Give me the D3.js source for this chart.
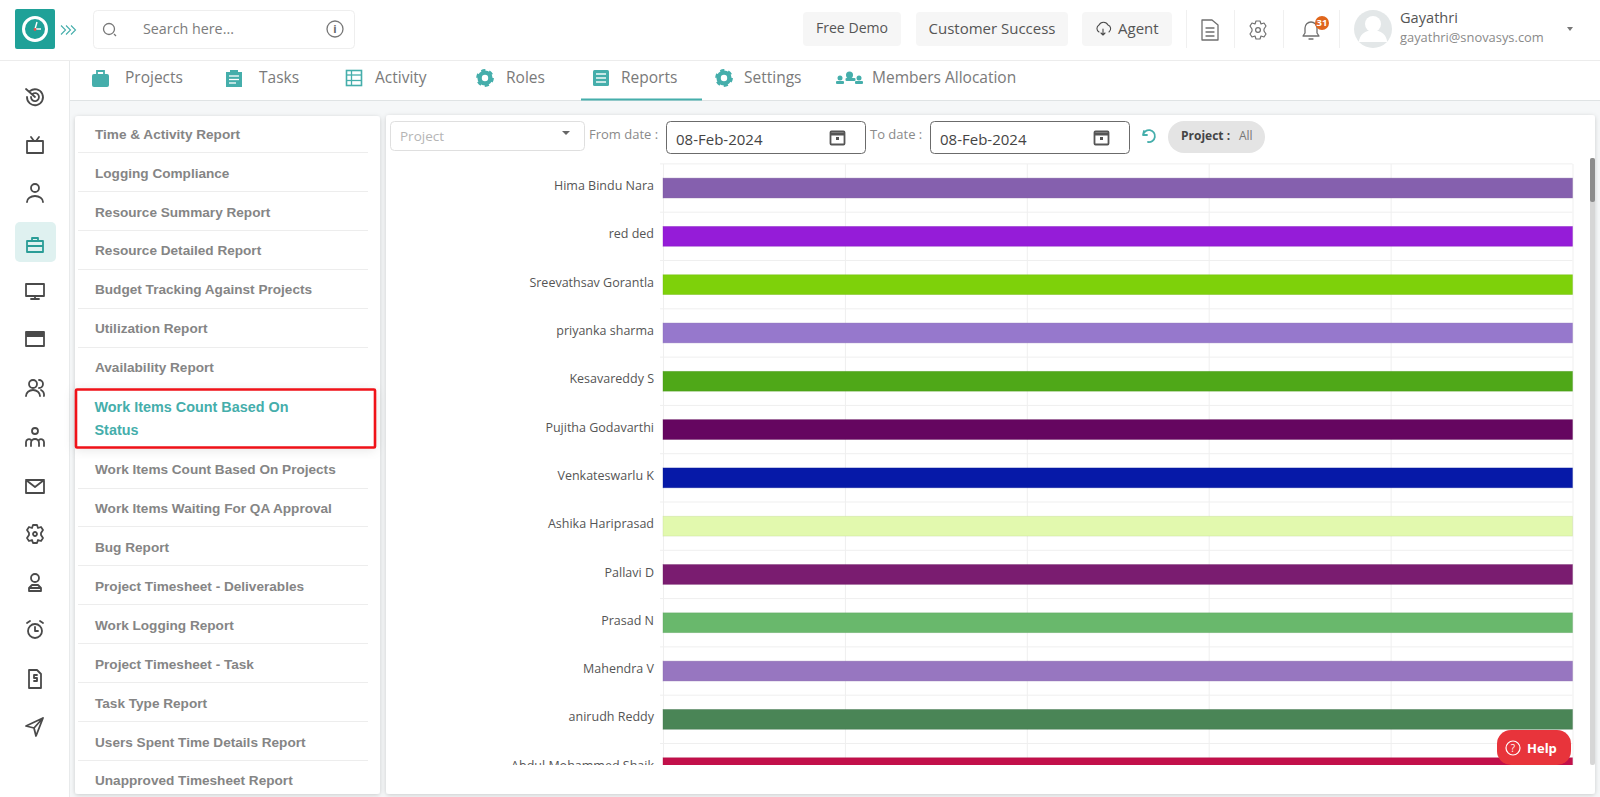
<!DOCTYPE html>
<html><head><meta charset="utf-8">
<script src="https://cdn.jsdelivr.net/npm/d3@7"></script>
<style>
html,body{margin:0;padding:0;background:#f5f7f8;overflow:hidden}
svg{display:block}
text{font-family:"Open Sans",sans-serif}
.menu{font-family:"Liberation Sans",Arial,sans-serif;font-weight:700;font-size:13.6px;fill:#858585}
.ic{fill:none;stroke:#4a4a4a;stroke-width:1.8;stroke-linecap:round;stroke-linejoin:round}
.tic{fill:#45aeab}
.grid line,.grid path{stroke:#efefef;stroke-width:1}
.names text{font-family:"Open Sans",sans-serif;font-size:12.5px;fill:#555}
</style></head><body>
<div id="chart"></div>
<script>
// ---------- chart data ----------
const employees = ["Hima Bindu Nara","red ded","Sreevathsav Gorantla","priyanka sharma","Kesavareddy S","Pujitha Godavarthi","Venkateswarlu K","Ashika Hariprasad","Pallavi D","Prasad N","Mahendra V","anirudh Reddy","Abdul Mohammed Shaik"];
const workItemCounts = [1,1,1,1,1,1,1,1,1,1,1,1,1];
const barColors = ["#8560ae","#951cd8","#7ed10a","#9678cc","#4fa818","#650660","#0619a8","#e2f9ae","#7a1c70","#69b86c","#9776c0","#4a8556","#c2104a"];
const valueTicks = [0,0.2,0.4,0.6,0.8,1];
// ---------- page text ----------
const menuItems = ["Time & Activity Report","Logging Compliance","Resource Summary Report","Resource Detailed Report","Budget Tracking Against Projects","Utilization Report","Availability Report"];
const menuItemsBelow = ["Work Items Count Based On Projects","Work Items Waiting For QA Approval","Bug Report","Project Timesheet - Deliverables","Work Logging Report","Project Timesheet - Task","Task Type Report","Users Spent Time Details Report","Unapproved Timesheet Report"];
const tabNames = ["Projects","Tasks","Activity","Roles","Reports","Settings","Members Allocation"];

const W=1600,H=797;
const svg=d3.select("#chart").append("svg").attr("width",W).attr("height",H);
const defs=svg.append("defs");
const f=defs.append("filter").attr("id","sh").attr("x","-5%").attr("y","-5%").attr("width","110%").attr("height","110%");
f.append("feDropShadow").attr("dx",0).attr("dy",1).attr("stdDeviation",2).attr("flood-color","#000").attr("flood-opacity",.18);
const f2=defs.append("filter").attr("id","sh2").attr("x","-10%").attr("y","-20%").attr("width","120%").attr("height","140%");
f2.append("feDropShadow").attr("dx",0).attr("dy",2).attr("stdDeviation",6).attr("flood-color","#000").attr("flood-opacity",.12);

const rect=(g,x,y,w,h,fill,r=0,stroke=null)=>g.append("rect").attr("x",x).attr("y",y).attr("width",w).attr("height",h).attr("fill",fill).attr("rx",r).attr("stroke",stroke);
const line=(g,x1,y1,x2,y2,c,sw=1)=>g.append("line").attr("x1",x1).attr("y1",y1).attr("x2",x2).attr("y2",y2).attr("stroke",c).attr("stroke-width",sw);
const txt=(g,x,y,s,size,fill,o={})=>g.append("text").attr("x",x).attr("y",y).attr("dy",".35em").attr("font-size",size).attr("fill",fill).attr("text-anchor",o.anchor||"start").attr("font-weight",o.weight||400).attr("letter-spacing",o.ls||null).text(s);
const ic=(x,y,d,cls="ic")=>svg.append("path").attr("class",cls).attr("transform",`translate(${x},${y})`).attr("d",d);
const gear=(cx,cy,c)=>{
  svg.append("circle").attr("cx",cx).attr("cy",cy).attr("r",5.4).attr("fill","none").attr("stroke",c).attr("stroke-width",4.4);
  svg.append("circle").attr("cx",cx).attr("cy",cy).attr("r",7.8).attr("fill","none").attr("stroke",c).attr("stroke-width",2.2).attr("stroke-dasharray","4.2 3.97");
};

// chrome
rect(svg,0,0,W,60,"#fff");
rect(svg,0,0,69,H,"#fff");
line(svg,69.5,60,69.5,H,"#e8eaeb");
line(svg,0,60.5,W,60.5,"#ececec");
rect(svg,70,61,W-70,39,"#fff");
line(svg,70,100.5,W,100.5,"#dfe3e4");

// logo
rect(svg,15,9,40,40,"#1fa198",2);
svg.append("circle").attr("cx",35).attr("cy",29).attr("r",11.5).attr("fill","none").attr("stroke","#fff").attr("stroke-width",3);
line(svg,35,29,37,22,"#fff",1.4);line(svg,35,29,41,29,"#fff",1.4);
svg.append("circle").attr("cx",35).attr("cy",29.5).attr("r",1.4).attr("fill","#e0524f");
[61,66,71].forEach(x=>svg.append("path").attr("d",`M${x},25.5 l4.5,4.5 l-4.5,4.5`).attr("fill","none").attr("stroke","#45aeab").attr("stroke-width",1.1));

// search
rect(svg,93.5,10.5,261,38,"#fff",4,"#eeeeee");
svg.append("circle").attr("cx",109).attr("cy",29).attr("r",5.5).attr("fill","none").attr("stroke","#777").attr("stroke-width",1.3);
line(svg,114,34,116,36,"#777",1.3);
txt(svg,143,29,"Search here...",14.3,"#7c7c7c");
svg.append("circle").attr("cx",335).attr("cy",29).attr("r",8).attr("fill","none").attr("stroke","#777").attr("stroke-width",1.3);
txt(svg,335,29,"i",11,"#666",{anchor:"middle",weight:700});

// header buttons
[[803,98,"Free Demo",852,"middle",14.1],[916,152,"Customer Success",992,"middle",15],[1082,90,"Agent",1118,"start",15]].forEach(b=>{
  rect(svg,b[0],12,b[1],34,"#f6f6f6",4);
  txt(svg,b[3],28.5,b[2],b[5],"#555",{anchor:b[4]});
});
ic(1103,29,"M-4,3 a4,4 0 0 1 0,-7 a5,5 0 0 1 9,0 a4,4 0 0 1 1,7 M0,0 v6 M-2,4 l2,2 l2,-2").attr("stroke","#777").style("stroke-width",1.1);
[1186,1234,1283,1339].forEach(x=>line(svg,x+.5,10,x+.5,48,"#f0f0f0"));
ic(1210,30,"M-8,-10 h10 l6,5 v15 h-16 z M-4,-2 h8 M-4,2 h8 M-4,6 h8").style("stroke","#6f6f6f").style("stroke-width",1.3);
ic(1258,30,"M-2,-9 h4 l1,3 3,-1 2,3 -2,3 v2 l2,3 -2,3 -3,-1 -1,3 h-4 l-1,-3 -3,1 -2,-3 2,-3 v-2 l-2,-3 2,-3 3,1 z").style("stroke","#6f6f6f").style("stroke-width",1.2);
svg.append("circle").attr("cx",1258).attr("cy",30).attr("r",2.4).attr("fill","none").attr("stroke","#6f6f6f").attr("stroke-width",1.2);
ic(1311,30,"M-8,6 h16 l-2,-3 v-5 a6,6 0 0 0 -12,0 v5 z M-2,9 h4").style("stroke","#6f6f6f").style("stroke-width",1.3);
svg.append("circle").attr("cx",1322).attr("cy",23).attr("r",7).attr("fill","#e0661c");
txt(svg,1322,23,"31",9.5,"#fff",{anchor:"middle",weight:700});
svg.append("circle").attr("cx",1373).attr("cy",29).attr("r",19).attr("fill","#e3e7e8");
svg.append("circle").attr("cx",1373).attr("cy",24).attr("r",8).attr("fill","#fff");
svg.append("path").attr("d","M1359,42 a14,12 0 0 1 28,0 z").attr("fill","#fff");
txt(svg,1400,18,"Gayathri",14.6,"#555");
txt(svg,1400,37.5,"gayathri@snovasys.com",12.9,"#8a8a8a");
svg.append("path").attr("d","M1567,27 h6 l-3,4 z").attr("fill","#777");

// tabs
const tabTextX=[125,259,375,506,621,744,872];
tabNames.forEach((t,i)=>txt(svg,tabTextX[i],77.5,t,15.5,"#7a7a7a"));
rect(svg,92,74,17,13,"#45aeab",2);
svg.append("path").attr("d","M97,74 v-3 h7 v3").attr("fill","none").attr("stroke","#45aeab").attr("stroke-width",1.8);
ic(226,70,"M0,2 h4 v-2 h8 v2 h4 v15 h-16 z","tic");
[[229,76,10],[229,79.5,10],[229,83,7]].forEach(a=>line(svg,a[0],a[1],a[0]+a[2],a[1],"#fff",1.3));
rect(svg,346.5,70.5,15,15,"none",0,"#45aeab").attr("stroke-width",1.6);
[75,80.5].forEach(y=>line(svg,347,y,361,y,"#45aeab",1.3));line(svg,351.5,71,351.5,85,"#45aeab",1.3);
gear(485,78,"#45aeab");
rect(svg,593,70,16,16,"#45aeab",1.5);
[74,78,82].forEach(y=>line(svg,596,y,606,y,"#fff",1.4));
gear(724,78,"#45aeab");
[[838,81,3],[847.5,78,4],[857,81,3]].forEach(a=>{svg.append("circle").attr("cx",a[0]+2).attr("cy",a[1]-3).attr("r",a[2]-.5).attr("fill","#45aeab");rect(svg,a[0]-2,a[1],a[2]*2+2,3,"#45aeab",1);});
line(svg,581,99.5,702,99.5,"#45aeab",2);

// sidebar icons
rect(svg,15,222,41,40,"#dff1f0",5);
const sideY=[97,146,193,245,291,339,388,438,486,533,583,630,679,727];
const sideD=[
 "M-8,0 a8,8 0 1 0 3,-6 M-4,0 a4,4 0 1 0 1.5,-3 M-9,-8 l9,8",
 "M-8,-5 h16 v12 h-16 z M-4,-9 l3,4 M4,-9 l-3,4",
 "M-4,-5 a4,4 0 1 0 8,0 a4,4 0 1 0 -8,0 M-8,9 a8,6 0 0 1 16,0",
 "M-8,-4 h16 v11 h-16 z M-3,-4 v-3 h6 v3 M-8,1 h16",
 "M-9,-7 h18 v12 h-18 z M0,5 v3 M-4,8 h8",
 "M-9,-7 h18 v14 h-18 z M-9,-3 h18 M-9,-5 h18",
 "M-6,-4 a4,4 0 1 0 8,0 a4,4 0 1 0 -8,0 M-9,8 a7,6 0 0 1 14,0 M4,-8 a4,4 0 0 1 0,8 M6,2 a6,6 0 0 1 3,6",
 "M-3,-7 a3,3 0 1 0 6,0 a3,3 0 1 0 -6,0 M-9,8 v-4 a3,3 0 0 1 5,-2 M9,8 v-4 a3,3 0 0 0 -5,-2 M-4,8 v-3 a4,4 0 0 1 8,0 v3",
 "M-9,-6 h18 v13 h-18 z M-9,-6 l9,7 l9,-7",
 "M-2,-8 h4 l1,3 3,-1 2,3 -2,3 v2 l2,3 -2,3 -3,-1 -1,3 h-4 l-1,-3 -3,1 -2,-3 2,-3 v-2 l-2,-3 2,-3 3,1 z M-2,1 a2,2 0 1 0 4,0 a2,2 0 1 0 -4,0",
 "M-4,-5 a4,4 0 1 0 8,0 a4,4 0 1 0 -8,0 M-6,8 v-3 l3,-3 h6 l3,3 v3 z M-6,5 h12",
 "M-7,1 a7,7 0 1 0 14,0 a7,7 0 1 0 -14,0 M0,-3 v4 h3 M-8,-7 l3,-2 M8,-7 l-3,-2",
 "M-6,-9 h8 l4,4 v14 h-12 z M2,-4 h-3 v3 h3 v3 h-3",
 "M8,-9 l-17,8 8,2 2,8 z M-1,1 l9,-10"];
sideY.forEach((y,i)=>{const p=ic(35,y,sideD[i]); if(i===3)p.style("stroke","#2a9d97");});

// left panel
rect(svg,75,116,305,678,"#fff",3).attr("filter","url(#sh)");
const menuStep=38.9;
const mg=svg.append("g");
menuItems.forEach((t,i)=>{
  const y=135+i*menuStep;
  txt(mg,95,y-1,t,14,"#808080").attr("class","menu");
  if(i<6) line(mg,78,Math.round(y+17)+.5,368,Math.round(y+17)+.5,"#ededed");
});
menuItemsBelow.forEach((t,i)=>{
  const y=470+i*38.9;
  txt(mg,95,y-.5,t,14,"#808080").attr("class","menu");
  if(i<8) line(mg,78,Math.round(y+17.5)+.5,368,Math.round(y+17.5)+.5,"#ededed");
});
rect(svg,75,389,300,58,"#fff",1).attr("filter","url(#sh2)");
rect(svg,76,389.5,299,58,"#fff",1,"#f01218").attr("stroke-width",2.6);
txt(svg,94.5,406.5,"Work Items Count Based On",14,"#45aeab").attr("class","menu").style("fill","#45aeab").style("font-size","14.4px");
txt(svg,94.5,430,"Status",14,"#45aeab").attr("class","menu").style("fill","#45aeab").style("font-size","14.4px");

// right panel
rect(svg,386,115,1209,679,"#fff",3).attr("filter","url(#sh)");
rect(svg,390.5,121.5,194,29,"#fff",4,"#dfdfdf");
txt(svg,400,136,"Project",13.5,"#b5b5b5");
svg.append("path").attr("d","M562,131 h8 l-4,4 z").attr("fill","#666");
txt(svg,589,134.5,"From date :",13,"#8a8a8a");
txt(svg,870,134.5,"To date :",13,"#8a8a8a");
[[666.5,676,838],[930.5,940,1102]].forEach(d=>{
  rect(svg,d[0],121.5,d[0]<700?199:199,32,"#fff",4,"#6b6b6b");
  txt(svg,d[1],140,"08-Feb-2024",15,"#444");
  rect(svg,d[2]-7.5,131.5,14,13,"none",1,"#555").attr("stroke-width",1.8);
  line(svg,d[2]-7,134,d[2]+6,134,"#555",3);
  rect(svg,d[2]-2,137,3,3,"#555");
});
ic(1149,136,"M-5,-5 l-1,4 l4,0 M-6,-1 a6,6 0 1 1 5,7").style("stroke","#45aeab");
rect(svg,1168,121,97,32,"#e4e4e4",16);
txt(svg,1181,136,"Project :",12,"#444",{weight:700});
txt(svg,1239,136,"All",12,"#777");

// scrollbar
rect(svg,1590,158,5,607,"#d6d6d6",2);
rect(svg,1590,158,5,44,"#8c8c8c",2);

// ---------- the chart ----------
const margin={left:663,right:27.5,top:163.9};
const rowH=48.3;
const innerW=W-margin.left-margin.right;
const x=d3.scaleLinear().domain([0,d3.max(workItemCounts)]).range([0,innerW]);
const y=d3.scaleBand().domain(employees).range([0,rowH*employees.length]).paddingInner(0.59).paddingOuter(0.295);
defs.append("clipPath").attr("id","clip").append("rect").attr("x",-300).attr("y",-10).attr("width",W).attr("height",765-margin.top+10);
const chart=svg.append("g").attr("transform",`translate(${margin.left},${margin.top})`).attr("clip-path","url(#clip)");
const gx=chart.append("g").attr("class","grid").call(d3.axisBottom(x).tickValues(valueTicks).tickSize(rowH*employees.length).tickFormat(""));
gx.select(".domain").remove();
const rowLines=d3.range(0,employees.length+1);
chart.append("g").attr("class","grid").selectAll("line").data(rowLines).join("line")
  .attr("x1",-3).attr("x2",innerW).attr("y1",d=>rowH*d).attr("y2",d=>rowH*d);
chart.selectAll("rect.bar").data(employees).join("rect").attr("class","bar")
  .attr("x",0).attr("y",d=>y(d)).attr("height",y.bandwidth())
  .attr("width",(d,i)=>x(workItemCounts[i])).attr("fill",(d,i)=>barColors[i])
  .attr("stroke",(d,i)=>d3.color(barColors[i]).darker(.4)).attr("stroke-opacity",.45).attr("stroke-width",.8);
const gy=chart.append("g").attr("class","names").call(d3.axisLeft(y).tickSize(0).tickPadding(9));
gy.select(".domain").remove();
gy.selectAll("text").attr("dy",".17em");

// help button
rect(svg,1497,730,74,35,"#e8343b",14);
svg.append("circle").attr("cx",1513).attr("cy",748).attr("r",7).attr("fill","none").attr("stroke","#fff").attr("stroke-width",1.2);
txt(svg,1513,748,"?",10,"#fff",{anchor:"middle"});
txt(svg,1527,748,"Help",13,"#fff",{weight:700});
</script>
</body></html>
